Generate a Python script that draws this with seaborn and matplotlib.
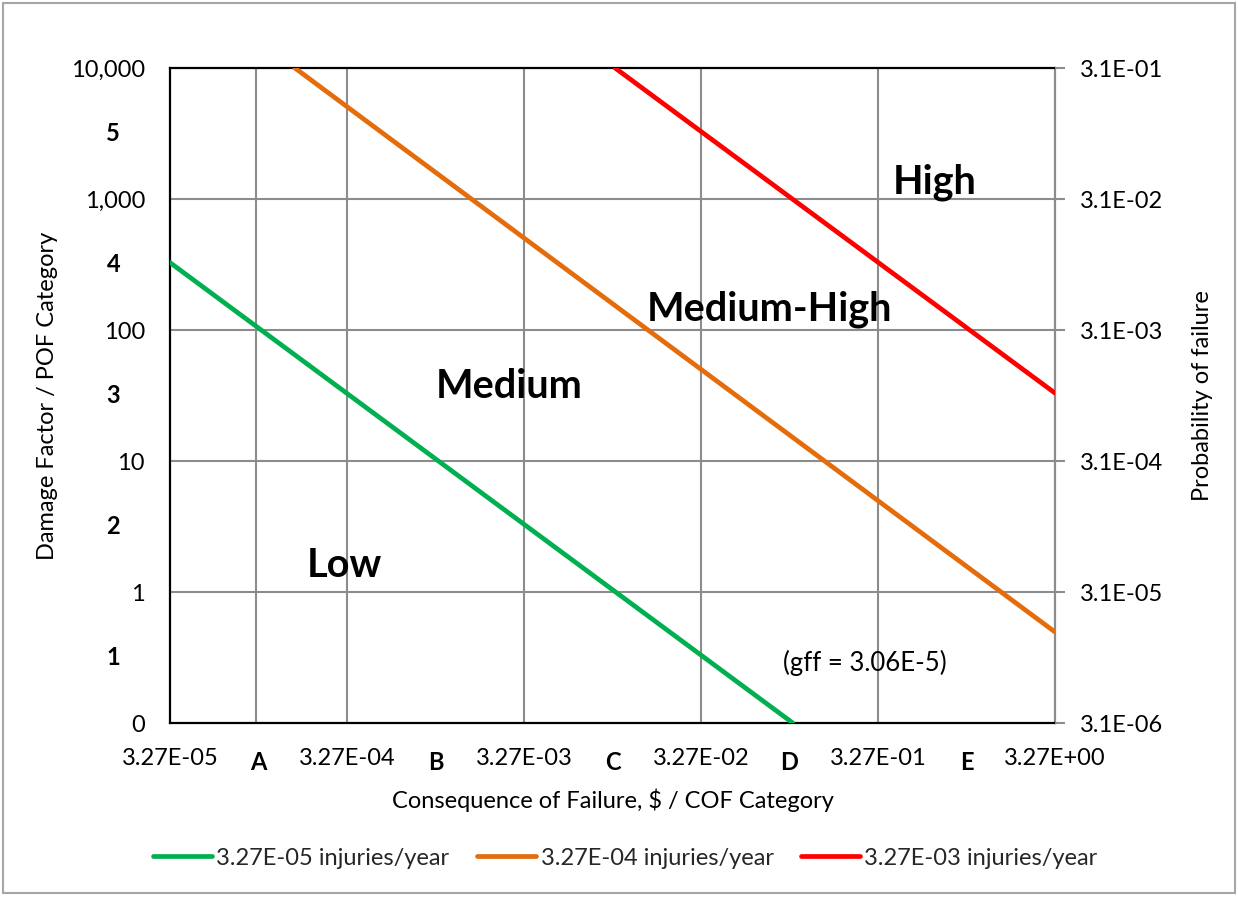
import numpy as np
import pandas as pd
import matplotlib
matplotlib.use("Agg")
import matplotlib.pyplot as plt
import matplotlib.transforms as mtransforms
from matplotlib.patches import Rectangle
import seaborn as sns

# Iso-risk lines: consequence of failure (x) vs damage factor (y)
series_names = ["3.27E-05 injuries/year", "3.27E-04 injuries/year", "3.27E-03 injuries/year"]
green_cof = [3.27e-5, 0.108]
green_df = [327.0, 0.1]
orange_cof = [1.66e-4, 3.27]
orange_df = [10000.0, 0.495]
red_cof = [0.0107, 3.27]
red_df = [10000.0, 33.0]
series_colors = ["#00B050", "#E46C0A", "#FF0000"]

# Axis ticks and category bands
cof_ticks = [3.27e-5, 3.27e-4, 3.27e-3, 3.27e-2, 3.27e-1, 3.27]
cof_tick_labels = ["3.27E-05", "3.27E-04", "3.27E-03", "3.27E-02", "3.27E-01", "3.27E+00"]
cof_categories = ["A", "B", "C", "D", "E"]
extra_cof_grid = [1e-4]
df_ticks = [0.1, 1, 10, 100, 1000, 10000]
df_tick_labels = ["0", "1", "10", "100", "1,000", "10,000"]
pof_categories = ["1", "2", "3", "4", "5"]
pof_ticks = [3.1e-6, 3.1e-5, 3.1e-4, 3.1e-3, 3.1e-2, 3.1e-1]
pof_tick_labels = ["3.1E-06", "3.1E-05", "3.1E-04", "3.1E-03", "3.1E-02", "3.1E-01"]
risk_regions = ["Low", "Medium", "Medium-High", "High"]
gff_note = "(gff = 3.06E-5)"

sns.set_theme(style="white")
plt.rcParams["font.family"] = ["Lato", "DejaVu Sans"]

frames = []
for name, cof, dfv in zip(series_names,
                          [green_cof, orange_cof, red_cof],
                          [green_df, orange_df, red_df]):
    frames.append(pd.DataFrame({"cof": cof, "df": dfv, "series": name}))
data = pd.concat(frames, ignore_index=True)

fig = plt.figure(figsize=(12.38, 8.97), dpi=100)
ax = fig.add_axes([170 / 1238, 1 - 723 / 897, 885 / 1238, 655 / 897])
ax.set_xscale("log")
ax.set_yscale("log")

grid_color = "#8C8C8C"
for x in extra_cof_grid + cof_ticks[1:-1]:
    ax.axvline(x, color=grid_color, lw=1.5, zorder=1)
for y in df_ticks[1:-1]:
    ax.axhline(y, color=grid_color, lw=1.5, zorder=1)

sns.lineplot(data=data, x="cof", y="df", hue="series", hue_order=series_names,
             palette=series_colors, linewidth=3.4, ax=ax, zorder=3, legend=True)

ax.set_xlim(cof_ticks[0], cof_ticks[-1])
ax.set_ylim(df_ticks[0], df_ticks[-1])
ax.xaxis.set_major_locator(matplotlib.ticker.FixedLocator(cof_ticks))
ax.xaxis.set_minor_locator(matplotlib.ticker.NullLocator())
ax.set_xticklabels(cof_tick_labels)
ax.yaxis.set_major_locator(matplotlib.ticker.FixedLocator(df_ticks))
ax.yaxis.set_minor_locator(matplotlib.ticker.NullLocator())
ax.set_yticklabels(df_tick_labels)
ax.tick_params(axis="x", length=0, pad=18, labelsize=17, colors="black")
ax.tick_params(axis="y", length=0, pad=18, labelsize=17, colors="black")

for side in ["left", "bottom", "top"]:
    ax.spines[side].set_color("black")
    ax.spines[side].set_linewidth(1.6)
ax.spines["right"].set_color("#8C8C8C")
ax.spines["right"].set_linewidth(1.6)

ax.set_xlabel("Consequence of Failure, $ / COF Category", fontsize=17, color="black")
ax.set_ylabel("Damage Factor / POF Category", fontsize=17, color="black")
ax.xaxis.set_label_coords(0.5, -0.100)
ax.yaxis.set_label_coords(-0.126, 0.5)

# COF category letters between decade ticks
xtrans = mtransforms.blended_transform_factory(ax.transData, ax.transAxes)
for i, lab in enumerate(cof_categories):
    xm = np.sqrt(cof_ticks[i] * cof_ticks[i + 1])
    ax.text(xm, -0.061, lab, transform=xtrans, ha="center", va="center",
            fontsize=17, fontweight="bold", color="black", clip_on=False)

# POF category numbers between decade ticks
ytrans = mtransforms.blended_transform_factory(ax.transAxes, ax.transData)
for i, lab in enumerate(pof_categories):
    ym = np.sqrt(df_ticks[i] * df_ticks[i + 1])
    ax.text(-0.064, ym, lab, transform=ytrans, ha="center", va="center",
            fontsize=17, fontweight="bold", color="black", clip_on=False)

# Risk region labels
region_pos = [(0.197, 0.241), (0.383, 0.513), (0.677, 0.632), (0.864, 0.826)]
for lab, (px, py) in zip(risk_regions, region_pos):
    ax.text(px, py, lab, transform=ax.transAxes, ha="center", va="center",
            fontsize=28.5, fontweight="bold", color="black", zorder=5)
ax.text(0.785, 0.092, gff_note, transform=ax.transAxes, ha="center", va="center",
        fontsize=18.5, color="black", zorder=5)

# Secondary axis: probability of failure
ax2 = ax.twinx()
ax2.set_yscale("log")
ax2.set_ylim(pof_ticks[0], pof_ticks[-1])
ax2.yaxis.set_major_locator(matplotlib.ticker.FixedLocator(pof_ticks))
ax2.yaxis.set_minor_locator(matplotlib.ticker.NullLocator())
ax2.set_yticklabels(pof_tick_labels)
ax2.tick_params(axis="y", length=7, width=1.5, color="#8C8C8C", pad=11,
                labelsize=17, labelcolor="black", direction="out")
for s in ax2.spines.values():
    s.set_visible(False)
ax2.set_ylabel("Probability of failure", fontsize=17, color="black")
ax2.yaxis.set_label_coords(1.155, 0.5)

# Legend below the plot
handles, labels = ax.get_legend_handles_labels()
ax.get_legend().remove()
fig.legend(handles, labels, loc="center", bbox_to_anchor=(0.505, 1 - 858 / 897),
           ncol=3, frameon=False, fontsize=17, handlelength=2.5,
           handletextpad=0.2, columnspacing=1.15)

# Chart border
fig.add_artist(Rectangle((3 / 1238, 4 / 897), 1232 / 1238, 890 / 897,
                         transform=fig.transFigure, fill=False,
                         edgecolor="#A6A6A6", lw=1.5))

fig.savefig("out.png", dpi=100)
